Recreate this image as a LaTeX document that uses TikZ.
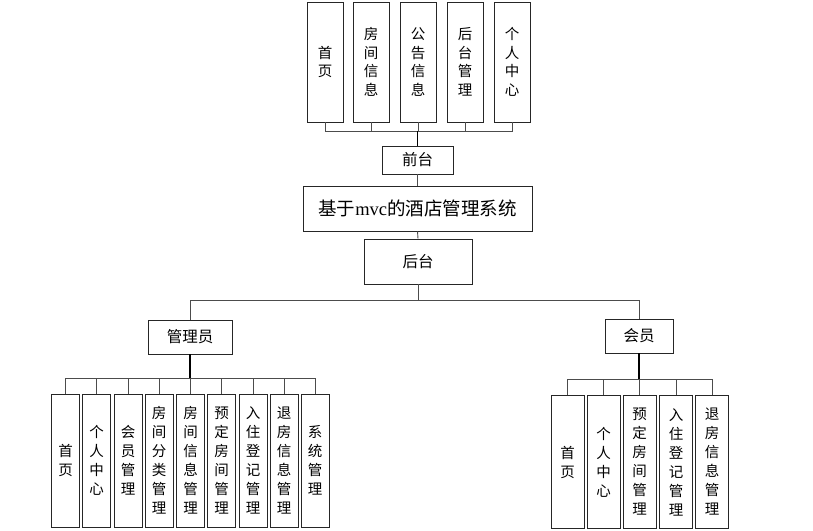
\documentclass[tikz,border=0pt]{standalone}
\usepackage{fontspec}
\setmainfont{Noto Sans CJK SC}
\newfontfamily\latinserif{Liberation Serif}
\begin{document}
\begin{tikzpicture}[x=1pt,y=-1pt,
  box/.style={draw=black!85, line width=0.9pt, fill=white, inner sep=0pt, align=center},
  vbox/.style={box, minimum width=36pt, minimum height=120pt, font=\fontsize{14.5}{18.5}\selectfont},
  lbox/.style={box, minimum width=28pt, minimum height=133pt, font=\fontsize{14.5}{19}\selectfont},
  hbox/.style={box, font=\fontsize{15.5}{18}\selectfont},
  conn/.style={draw=black!70, line width=0.9pt},
  trunk/.style={draw=black, line width=1.2pt}]
\useasboundingbox (0,0) rectangle (813,530);
% top level
\node[vbox] (t1) at (325,62) {首\\页};
\node[vbox] (t2) at (371,62) {房\\间\\信\\息};
\node[vbox] (t3) at (418,62) {公\\告\\信\\息};
\node[vbox] (t4) at (465,62) {后\\台\\管\\理};
\node[vbox] (t5) at (512,62) {个\\人\\中\\心};
\node[hbox, minimum width=71pt, minimum height=28pt] (qt) at (417.5,160) {前台};
\node[box, minimum width=229pt, minimum height=45pt, font=\fontsize{18.5}{21}\selectfont] (main) at (417.5,208.5) {基于{\latinserif mvc}的酒店管理系统};
\node[hbox, minimum width=108pt, minimum height=45pt] (ht) at (418,261.5) {后台};
\node[hbox, minimum width=84pt, minimum height=34pt] (admin) at (190,337) {管理员};
\node[hbox, minimum width=68pt, minimum height=34pt] (member) at (639,336) {会员};
% admin children
\node[lbox] (a1) at (65.5,460.5) {首\\页};
\node[lbox] (a2) at (96.5,460.5) {个\\人\\中\\心};
\node[lbox] (a3) at (128,460.5) {会\\员\\管\\理};
\node[lbox] (a4) at (159,460.5) {房\\间\\分\\类\\管\\理};
\node[lbox] (a5) at (190.5,460.5) {房\\间\\信\\息\\管\\理};
\node[lbox] (a6) at (221.5,460.5) {预\\定\\房\\间\\管\\理};
\node[lbox] (a7) at (253,460.5) {入\\住\\登\\记\\管\\理};
\node[lbox] (a8) at (284,460.5) {退\\房\\信\\息\\管\\理};
\node[lbox] (a9) at (315,460.5) {系\\统\\管\\理};
% member children
\node[lbox, minimum width=33pt] (m1) at (567.5,462) {首\\页};
\node[lbox, minimum width=33pt] (m2) at (603.5,462) {个\\人\\中\\心};
\node[lbox, minimum width=33pt] (m3) at (639.5,462) {预\\定\\房\\间\\管\\理};
\node[lbox, minimum width=33pt] (m4) at (676,462) {入\\住\\登\\记\\管\\理};
\node[lbox, minimum width=33pt] (m5) at (712,462) {退\\房\\信\\息\\管\\理};
% bus coordinates
\coordinate (topbus) at (417.5,131);
\coordinate (bbus) at (418,300);
\coordinate (abus) at (190,378);
\coordinate (mbus) at (639,379);
% connectors
\foreach \n in {t1,t2,t3,t4,t5} \draw[conn] (\n.south) |- (topbus);
\draw[trunk] (topbus) -- (qt.north);
\draw[conn] (qt.south) -- (main.north);
\draw[conn] (main.south) -- (ht.north);
\draw[conn] (ht.south) -- (bbus);
\draw[conn] (bbus) -| (admin.north);
\draw[conn] (bbus) -| (member.north);
\draw[trunk] (admin.south) -- (abus);
\foreach \n in {a1,a2,a3,a4,a5,a6,a7,a8,a9} \draw[conn] (\n.north) |- (abus);
\draw[trunk] (member.south) -- (mbus);
\foreach \n in {m1,m2,m3,m4,m5} \draw[conn] (\n.north) |- (mbus);
\end{tikzpicture}
\end{document}
